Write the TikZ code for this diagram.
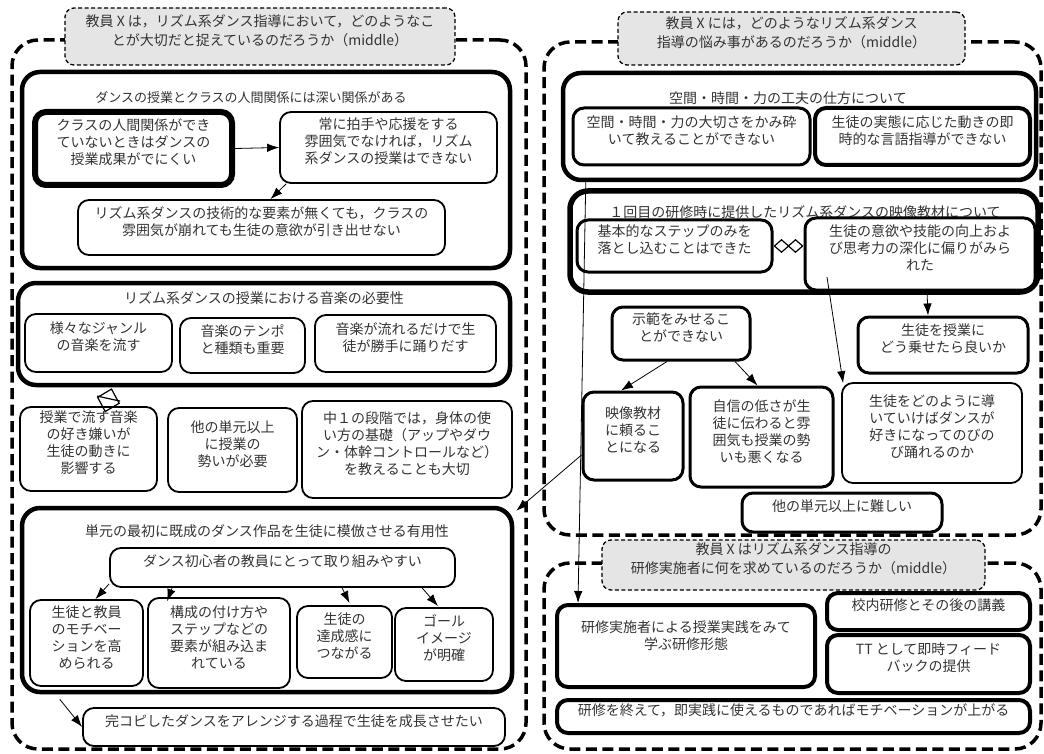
\documentclass[tikz,border=0pt]{standalone}
\usepackage{fontspec}
\setmainfont{Noto Sans CJK JP}
\usetikzlibrary{fit,calc,arrows.meta}

\tikzset{
  frame/.style={draw, line width=3.5pt, dash pattern=on 11pt off 5.5pt, rounded corners=26pt, inner sep=0pt},
  qbox/.style={draw, fill=black!10, line width=1.3pt, dash pattern=on 4pt off 2.5pt,
    rounded corners=9pt, inner sep=0pt, align=center, font=\fontsize{14}{19}\selectfont},
  grp/.style={draw, line width=4.5pt, rounded corners=18pt, inner sep=0pt},
  bx/.style={draw, line width=1.8pt, rounded corners=11pt, inner sep=0pt, align=center},
  bxm/.style={bx, line width=3pt},
  bxt/.style={bx, line width=4pt},
  bxx/.style={bx, line width=6pt},
  ttl/.style={inner sep=0pt, align=center},
  arr/.style={line width=0.8pt, -{Latex[length=12pt,width=8.5pt]}},
  dtip/.style={line width=1.2pt, -{Diamond[open,length=25pt,width=24pt]}},
  ddtip/.style={line width=1.2pt, {Diamond[open,length=16pt,width=14pt]}-{Diamond[open,length=16pt,width=14pt]}},
}

\begin{document}
\begin{tikzpicture}[x=1pt, y=-1pt, font=\fontsize{14}{17}\selectfont, text=black!80]
\useasboundingbox (0,0) rectangle (1044,754);

% ---------- left panel ----------
\node[frame, fit={(12,40)(526,749)}] (Lframe) {};
\node[qbox, fit={(65,8)(455,65)}] (Lq) {教員 X は，リズム系ダンス指導において，どのようなこ\\とが大切だと捉えているのだろうか（middle）};

\node[grp, fit={(22,72)(510,268)}] (A) {};
\node[ttl, font=\fontsize{13}{16}\selectfont] (At) at (251,98) {ダンスの授業とクラスの人間関係には深い関係がある};
\node[bxx, fit={(35,112)(232,185)}] (A1) {クラスの人間関係ができ\\ていないときはダンスの\\授業成果がでにくい};
\node[bx, fit={(280,112)(497,183)}] (A2) {常に拍手や応援をする\\雰囲気でなければ，リズム\\系ダンスの授業はできない};
\node[bx, fit={(78,200)(445,255)}] (A3) {リズム系ダンスの技術的な要素が無くても，クラスの\\雰囲気が崩れても生徒の意欲が引き出せない};

\node[grp, fit={(18,283)(510,385)}] (B) {};
\node[ttl] (Bt) at (264,298) {リズム系ダンスの授業における音楽の必要性};
\node[bx, fit={(25,314)(172,372)}] (B1) {様々なジャンル\\の音楽を流す};
\node[bx, fit={(180,318)(305,373)}] (B2) {音楽のテンポ\\と種類も重要};
\node[bx, fit={(315,315)(496,372)}] (B3) {音楽が流れるだけで生\\徒が勝手に踊りだす};

\node[bx, fit={(20,407)(157,491)}] (C1) {授業で流す音楽\\の好き嫌いが\\生徒の動きに\\影響する};
\node[bx, fit={(168,408)(297,492)}] (C2) {他の単元以上\\に授業の\\勢いが必要};
\node[bx, fit={(302,401)(512,498)}] (C3) {中１の段階では，身体の使\\い方の基礎（アップやダウ\\ン・体幹コントロールなど）\\を教えることも大切};

\node[grp, fit={(22,508)(512,692)}] (D) {};
\node[ttl] (Dt) at (267,531) {単元の最初に既成のダンス作品を生徒に模倣させる有用性};
\node[bx, fit={(110,548)(455,587)}] (D0) {ダンス初心者の教員にとって取り組みやすい};
\node[bx, fit={(30,600)(143,686)}] (D1) {生徒と教員\\のモチベー\\ションを高\\められる};
\node[bx, fit={(148,598)(290,688)}] (D2) {構成の付け方や\\ステップなどの\\要素が組み込ま\\れている};
\node[bx, fit={(297,606)(392,678)}] (D3) {生徒の\\達成感に\\つながる};
\node[bx, fit={(395,608)(493,681)}] (D4) {ゴール\\イメージ\\が明確};
\node[bx, fit={(83,708)(505,746)}] (E) {完コピしたダンスをアレンジする過程で生徒を成長させたい};

% ---------- right upper panel ----------
\node[frame, fit={(544,42)(1041,535)}] (Rframe) {};
\node[qbox, fit={(618,12)(965,65)}] (Rq) {教員 X には，どのようなリズム系ダンス\\指導の悩み事があるのだろうか（middle）};

\node[grp, fit={(563,73)(1036,180)}] (F) {};
\node[ttl] (Ft) at (788,98) {空間・時間・力の工夫の仕方について};
\node[bxm, fit={(573,108)(810,165)}] (F1) {空間・時間・力の大切さをかみ砕\\いて教えることができない};
\node[bxt, fit={(815,108)(1030,165)}] (F2) {生徒の実態に応じた動きの即\\時的な言語指導ができない};

\node[grp, line width=5.5pt, fit={(570,191)(1038,292)}] (G) {};
\node[ttl] (Gt) at (805,212) {１回目の研修時に提供したリズム系ダンスの映像教材について};
\node[bxm, fit={(577,220)(772,272)}] (G1) {基本的なステップのみを\\落とし込むことはできた};
\node[bxm, fit={(805,218)(1035,290)}] (G2) {生徒の意欲や技能の向上およ\\び思考力の深化に偏りがみら\\れた};

\node[bxm, fit={(612,307)(750,360)}] (H) {示範をみせるこ\\とができない};
\node[bxm, fit={(858,317)(1028,373)}] (I) {生徒を授業に\\どう乗せたら良いか};
\node[bxm, fit={(583,392)(683,480)}] (K) {映像教材\\に頼るこ\\とになる};
\node[bxm, fit={(690,387)(833,487)}] (L) {自信の低さが生\\徒に伝わると雰\\囲気も授業の勢\\いも悪くなる};
\node[bx, fit={(842,383)(1022,483)}] (J) {生徒をどのように導\\いていけばダンスが\\好きになってのびの\\び踊れるのか};
\node[bxm, fit={(742,493)(942,532)}] (M) {他の単元以上に難しい};

% ---------- right lower panel ----------
\node[frame, fit={(544,563)(1041,749)}] (Sframe) {};
\node[qbox, fit={(602,540)(985,590)}] (Sq) {教員 X はリズム系ダンス指導の\\研修実施者に何を求めているのだろうか（middle）};
\node[bxt, fit={(557,605)(815,687)}] (N) {};
\node[ttl] (Nt) at (686,636) {研修実施者による授業実践をみて\\学ぶ研修形態};
\node[bxt, fit={(827,593)(1030,630)}] (O) {校内研修とその後の講義};
\node[bxt, fit={(827,635)(1030,693)}] (P) {TT として即時フィード\\バックの提供};
\node[bxt, fit={(557,700)(1030,733)}] (Q) {研修を終えて，即実践に使えるものであればモチベーションが上がる};

% ---------- connectors ----------
\draw[arr] (A1.east) -- (A2.west);
\draw[arr] ($(A2.south west)+(7,0)$) -- ($(A3.north)+(9,0)$);

\draw[dtip] ($(C1.north west)+(86,6)$) -- ($(B.south west)+(96,1)$);
\draw[line width=1.2pt] ($(C1.north west)+(78,-10)$) -- ($(C1.north west)+(101,-5)$);

\draw[arr] ($(D0.south west)+(0,-4)$) -- ($(D1.north)+(9,0)$);
\draw[arr] ($(D0.south west)+(63,0)$) -- ($(D2.north west)+(20,4)$);
\draw[arr] ($(D0.south west)+(233,0)$) -- ($(D3.north)+(5,-2)$);
\draw[arr] ($(D0.south west)+(313,0)$) -- ($(D4.north)+(-6,-1)$);
\draw[arr] ($(D.south west)+(40,5)$) -- (E.west);

\draw[ddtip] (G1.east) -- (G1.east -| G2.west);
\draw[arr] ($(G2.south)+(7,0)$) -- ($(I.north)+(-15,0)$);
\coordinate (gin) at (827,277);
\draw[arr] (gin) -- ($(J.north west)+(2,1)$);
\draw[arr] ($(H.south)+(-14,0)$) -- ($(K.north)+(-12,0)$);
\draw[arr] ($(H.south)+(54,0)$) -- ($(L.north)+(-4,0)$);

\draw[arr] ($(F.south west)+(25,0)$) -- ($(N.north west)+(23,0)$);
\draw[arr] ($(K.west)+(0,19)$) -- ($(D.north east)+(2,5)$);
\end{tikzpicture}
\end{document}
